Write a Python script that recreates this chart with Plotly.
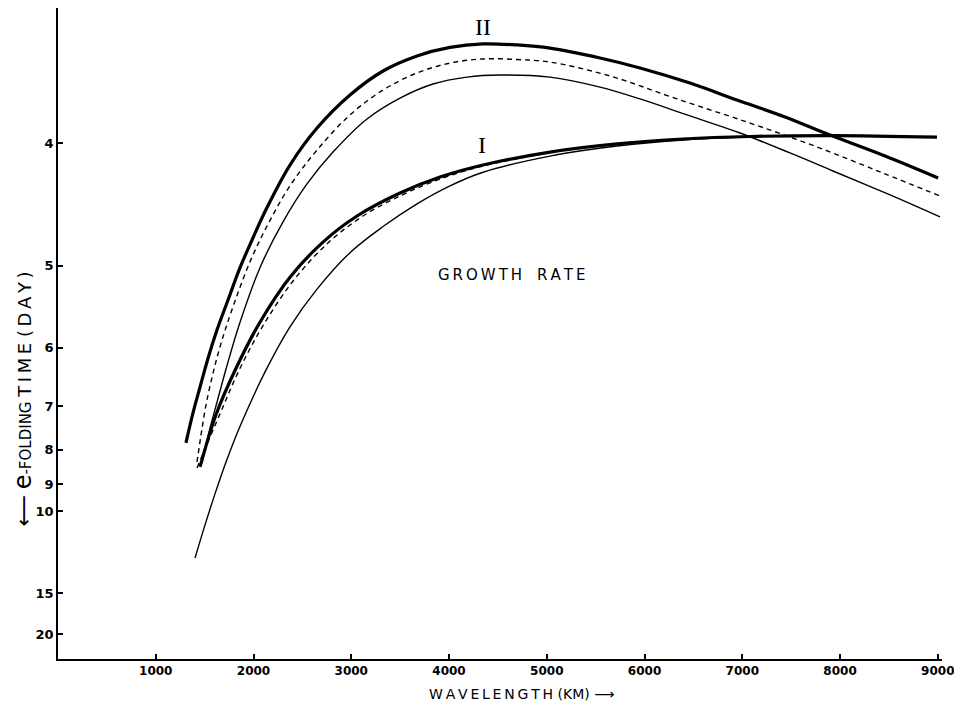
import plotly.graph_objects as go

# ---- data: wavelength (km) and e-folding time (day) ----
ii_thick_km = [1309, 1381, 1453, 1535, 1627, 1739, 1862, 1995, 2138, 2373, 2650, 2987, 3325, 3673, 4010, 4348, 4696, 5033, 5545, 5954, 6465, 6946, 7437, 7898, 8461, 9003]
ii_thick_T = [7.82, 7.14, 6.64, 6.16, 5.75, 5.375, 5.02, 4.73, 4.47, 4.149, 3.905, 3.710, 3.580, 3.503, 3.461, 3.444, 3.449, 3.464, 3.513, 3.564, 3.644, 3.738, 3.837, 3.949, 4.087, 4.242]

ii_dash_km = [1422, 1463, 1514, 1586, 1678, 1801, 1964, 2148, 2373, 2650, 2987, 3325, 3673, 4010, 4348, 4696, 5033, 5647, 6332, 7079, 7765, 8440, 9023]
ii_dash_T = [8.33, 7.63, 6.98, 6.40, 5.89, 5.42, 4.96, 4.61, 4.30, 4.046, 3.825, 3.682, 3.590, 3.539, 3.518, 3.521, 3.534, 3.606, 3.732, 3.874, 4.026, 4.206, 4.378]

ii_thin_km = [1473, 1545, 1627, 1739, 1862, 2066, 2302, 2547, 2813, 3161, 3499, 3836, 4184, 4522, 5033, 5545, 5954, 6465, 6977, 7488, 7928, 8512, 9023]
ii_thin_T = [8.36, 7.56, 6.92, 6.22, 5.65, 5.02, 4.59, 4.286, 4.060, 3.849, 3.727, 3.649, 3.612, 3.601, 3.612, 3.666, 3.732, 3.831, 3.936, 4.066, 4.191, 4.370, 4.548]

i_thick_km = [1453, 1616, 1821, 2066, 2373, 2711, 3059, 3499, 3908, 4348, 5033, 5719, 6394, 7079, 7928, 8992]
i_thick_T = [8.47, 7.18, 6.32, 5.65, 5.12, 4.77, 4.54, 4.355, 4.235, 4.149, 4.06, 4.006, 3.974, 3.958, 3.952, 3.962]

i_dash_km = [1422, 1657, 1862, 2118, 2435, 2772, 3120, 3540, 3939, 4368, 5033]
i_dash_T = [8.50, 7.16, 6.32, 5.65, 5.12, 4.77, 4.54, 4.363, 4.242, 4.152, 4.063]

i_thin_km = [1402, 1504, 1606, 1719, 1872, 2118, 2373, 2650, 2987, 3325, 3673, 4010, 4348, 5033, 5719, 6394, 7079]
i_thin_T = [12.35, 10.59, 9.34, 8.33, 7.38, 6.38, 5.71, 5.25, 4.87, 4.63, 4.44, 4.30, 4.20, 4.087, 4.02, 3.98, 3.962]

y_tick_days = [4, 5, 6, 7, 8, 9, 10, 15, 20]
x_tick_km = [1000, 2000, 3000, 4000, 5000, 6000, 7000, 8000, 9000]


def rate(ts):
    return [1.0 / t for t in ts]


fig = go.Figure()


def add(km, T, width, dash="solid"):
    fig.add_trace(go.Scatter(x=km, y=rate(T), mode="lines",
                             line=dict(color="black", width=width, dash=dash, shape="spline", smoothing=1.0),
                             hoverinfo="skip", showlegend=False))


add(ii_thin_km, ii_thin_T, 1.4)
add(ii_dash_km, ii_dash_T, 1.4, "5px,4px")
add(ii_thick_km, ii_thick_T, 3.2)
add(i_thin_km, i_thin_T, 1.4)
add(i_dash_km, i_dash_T, 1.4, "5px,4px")
add(i_thick_km, i_thick_T, 3.2)

tick_font = dict(family="DejaVu Sans", size=12, color="black", weight="bold")

fig.update_layout(
    width=946, height=696,
    margin=dict(l=50, r=12, t=0, b=45),
    paper_bgcolor="white", plot_bgcolor="white",
    xaxis=dict(range=[0, 9043], tickvals=x_tick_km, ticktext=[str(v) for v in x_tick_km],
               ticks="inside", ticklen=5, tickwidth=1.5, tickcolor="black",
               showline=True, linecolor="black", linewidth=1.8, showgrid=False, zeroline=False,
               tickfont=tick_font, automargin=False, ticklabeloverflow="allow"),
    yaxis=dict(range=[0.0398, 0.305], tickvals=[1.0 / d for d in y_tick_days],
               ticktext=[str(d) for d in y_tick_days],
               ticks="inside", ticklen=5, tickwidth=1.5, tickcolor="black",
               showline=True, linecolor="black", linewidth=1.8, showgrid=False, zeroline=False,
               tickfont=dict(family="DejaVu Sans", size=13, color="black", weight="bold"),
               automargin=False),
)

ts = "\u2009"
fig.add_annotation(x=4348, y=0.2973, text="II", showarrow=False,
                   font=dict(family="Liberation Serif", size=24, color="black"))
fig.add_annotation(x=4338, y=0.2491, text="I", showarrow=False,
                   font=dict(family="Liberation Serif", size=24, color="black"))
fig.add_annotation(x=4634, y=0.1962, text=ts.join("GROWTH") + "\u2003" + ts.join("RATE"), showarrow=False,
                   font=dict(family="DejaVu Sans", size=15, color="black"))
fig.add_annotation(xref="paper", yref="paper", x=0.524, y=-0.0538, xanchor="center", yanchor="middle",
                   text=ts.join("WAVELENGTH") + " (KM) ⟶",
                   showarrow=False, font=dict(family="DejaVu Sans", size=14, color="black"))
fig.add_annotation(xref="paper", yref="paper", x=-0.0396, y=0.40, xanchor="center", yanchor="middle",
                   textangle=-90,
                   text="<span style='font-size:22px'>⟵</span> <span style='font-size:24px'>e</span>"
                        "<span style='font-size:15px'>-FOLDING </span>"
                        "<span style='font-size:18px'>" + ts.join("TIME") + " " + ts.join("(DAY)") + "</span>",
                   showarrow=False, font=dict(family="DejaVu Sans", size=18, color="black"))

fig.write_html("out.html")
